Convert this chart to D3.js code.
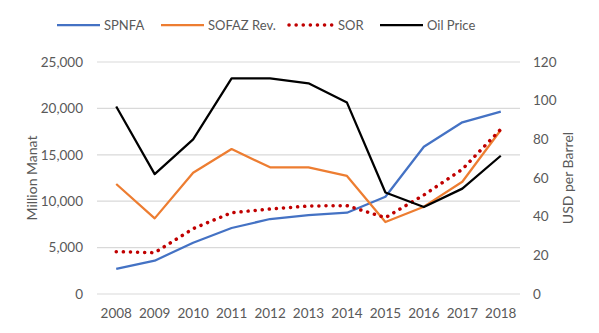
<!DOCTYPE html>
<html>
<head>
<meta charset="utf-8">
<script src="https://cdn.jsdelivr.net/npm/d3@7"></script>
<style>
  body { margin: 0; background: #fff; }
  text { font-family: Lato, "Open Sans", sans-serif; fill: #595959; }
</style>
</head>
<body>
<div id="chart"></div>
<script>
// yearly series (million manat, oil price in USD/bbl)
years = ["2008","2009","2010","2011","2012","2013","2014","2015","2016","2017","2018"]
spnfa = [2700, 3590, 5530, 7110, 8080, 8500, 8760, 10480, 15870, 18500, 19650]
sofaz = [11850, 8150, 13070, 15620, 13650, 13650, 12720, 7760, 9410, 12100, 17670]
sor = [4560, 4450, 7040, 8760, 9160, 9480, 9520, 8230, 10670, 13440, 17750]
oil = [97, 62, 80, 111.5, 111.5, 109, 99, 52.5, 45, 54.5, 71.5]
leftTicks = [0, 5000, 10000, 15000, 20000, 25000]
rightTicks = [0, 20, 40, 60, 80, 100, 120]

margin = {top: 62, right: 79, bottom: 39, left: 97},
width = 599 - margin.left - margin.right,
height = 333 - margin.top - margin.bottom;

svg = d3.select("#chart")
  .append("svg")
  .attr("width", 599)
  .attr("height", 333)

g = svg.append("g")
  .attr("transform", `translate(${margin.left}, ${margin.top})`);

x = d3.scaleBand().domain(years).range([0, width])
yL = d3.scaleLinear().domain([0, 25000]).range([height, 0])
yR = d3.scaleLinear().domain([0, 120]).range([height, 0])

// gridlines follow the left axis
g.selectAll(".grid")
  .data(leftTicks)
  .join("line")
    .attr("x1", 0)
    .attr("x2", width)
    .attr("y1", d => yL(d))
    .attr("y2", d => yL(d))
    .style("stroke", "#d9d9d9")
    .style("stroke-width", 1.2)

axL = g.append("g")
  .call(d3.axisLeft(yL).tickValues(leftTicks).tickFormat(d3.format(",")).tickSize(0).tickPadding(14))
axL.select(".domain").remove()

axR = g.append("g")
  .attr("transform", `translate(${width}, 0)`)
  .call(d3.axisRight(yR).tickValues(rightTicks).tickSize(0).tickPadding(13))
axR.select(".domain").remove()

axB = g.append("g")
  .attr("transform", `translate(0, ${height})`)
  .call(d3.axisBottom(x).tickSize(0).tickPadding(14))
axB.select(".domain").remove()

svg.selectAll(".tick text")
  .style("font-family", "Lato, 'Open Sans', sans-serif")
  .style("font-size", "13.5px")
  .style("fill", "#595959")

// axis titles
svg.append("text")
  .attr("transform", "translate(37, 178) rotate(-90)")
  .attr("text-anchor", "middle")
  .style("font-size", "14px")
  .text("Million Manat")

svg.append("text")
  .attr("transform", "translate(573, 178) rotate(-90)")
  .attr("text-anchor", "middle")
  .style("font-size", "14px")
  .text("USD per Barrel")

cx = d => x(d) + x.bandwidth() / 2
lineL = d3.line().x((d, i) => cx(years[i])).y(d => yL(d))
lineR = d3.line().x((d, i) => cx(years[i])).y(d => yR(d))

series = [
  {name: "SPNFA", values: spnfa, line: lineL, color: "#4472c4", dash: null},
  {name: "SOFAZ Rev.", values: sofaz, line: lineL, color: "#ed7d31", dash: null},
  {name: "SOR", values: sor, line: lineL, color: "#c00000", dash: "0.1 7"},
  {name: "Oil Price", values: oil, line: lineR, color: "#000000", dash: null}
]

g.selectAll(".series")
  .data(series)
  .join("path")
    .attr("d", d => d.line(d.values))
    .style("fill", "none")
    .style("stroke", d => d.color)
    .style("stroke-width", d => d.dash ? 3.5 : 2.25)
    .style("stroke-linecap", d => d.dash ? "round" : "butt")
    .style("stroke-linejoin", "round")
    .style("stroke-dasharray", d => d.dash)

// legend
legendX = [57, 161, 289, 380]
legend = svg.selectAll(".legend")
  .data(series)
  .join("g")
    .attr("transform", (d, i) => `translate(${legendX[i]}, 25)`)

legend.append("line")
  .attr("x1", 0)
  .attr("x2", 43)
  .style("stroke", d => d.color)
  .style("stroke-width", d => d.dash ? 3.5 : 2.25)
  .style("stroke-linecap", d => d.dash ? "round" : "butt")
  .style("stroke-dasharray", d => d.dash)

legend.append("text")
  .attr("x", d => d.dash ? 49 : 47)
  .attr("y", 5)
  .style("font-size", "13px")
  .text(d => d.name)
</script>
</body>
</html>
